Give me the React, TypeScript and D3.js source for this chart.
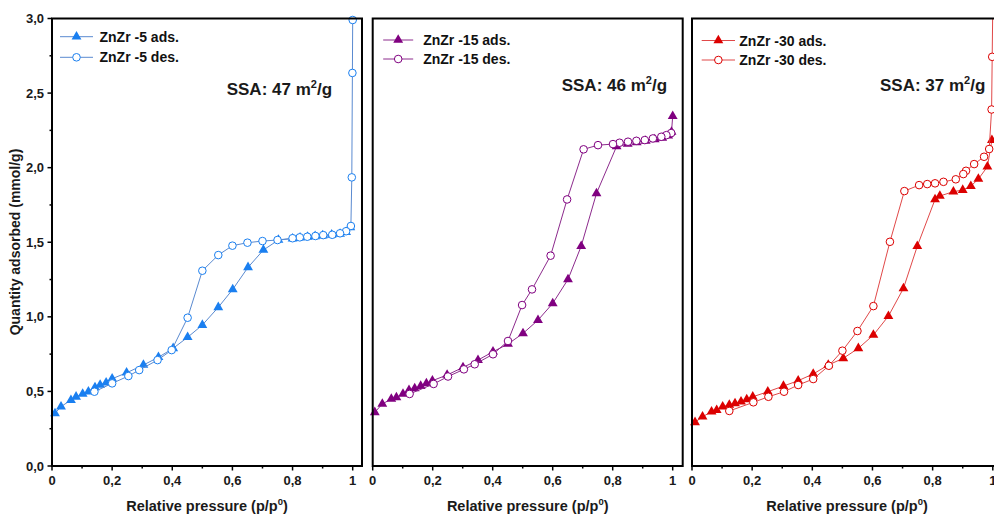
import React from 'react';
import * as d3 from 'd3';

type Pt = [number, number];

const xTickValues = [0, 0.2, 0.4, 0.6, 0.8, 1];
const xTickLabels = ['0', '0,2', '0,4', '0,6', '0,8', '1'];
const xMinorTicks = [0.1, 0.3, 0.5, 0.7, 0.9];
const yTickValues = [0, 0.5, 1, 1.5, 2, 2.5, 3];
const yTickLabels = ['0,0', '0,5', '1,0', '1,5', '2,0', '2,5', '3,0'];
const yMinorTicks = [0.25, 0.75, 1.25, 1.75, 2.25, 2.75];

const sampleNames = ['ZnZr -5', 'ZnZr -15', 'ZnZr -30'];
const ssaValues = ['47', '46', '37'];

const zn5Ads: Pt[] = [
  [0.01, 0.353], [0.03, 0.398], [0.063, 0.442], [0.08, 0.464], [0.102, 0.483], [0.121, 0.498],
  [0.143, 0.527], [0.16, 0.543], [0.18, 0.558], [0.2, 0.585], [0.248, 0.625], [0.304, 0.677],
  [0.354, 0.729], [0.403, 0.789], [0.451, 0.863], [0.5, 0.945], [0.553, 1.064], [0.601, 1.184],
  [0.652, 1.332], [0.703, 1.448], [0.753, 1.515], [0.8, 1.524], [0.825, 1.53], [0.85, 1.535],
  [0.875, 1.54], [0.9, 1.545], [0.93, 1.55], [0.958, 1.556], [0.978, 1.568], [0.992, 1.6],
];
const zn5Des: Pt[] = [
  [1.0, 2.99], [0.999, 2.635], [0.997, 1.935], [0.994, 1.609], [0.978, 1.574], [0.958, 1.56],
  [0.932, 1.55], [0.902, 1.548], [0.876, 1.542], [0.849, 1.537], [0.824, 1.533], [0.8, 1.527],
  [0.75, 1.515], [0.7, 1.508], [0.65, 1.497], [0.6, 1.477], [0.553, 1.414], [0.5, 1.309],
  [0.451, 0.994], [0.398, 0.777], [0.351, 0.71], [0.29, 0.643], [0.254, 0.603], [0.2, 0.554],
  [0.141, 0.498],
];
const zn15Ads: Pt[] = [
  [0.007, 0.36], [0.032, 0.416], [0.062, 0.449], [0.079, 0.46], [0.101, 0.483], [0.121, 0.509],
  [0.14, 0.52], [0.16, 0.536], [0.179, 0.554], [0.199, 0.572], [0.248, 0.61], [0.301, 0.661],
  [0.351, 0.71], [0.401, 0.766], [0.451, 0.818], [0.501, 0.889], [0.551, 0.978], [0.6, 1.09],
  [0.651, 1.251], [0.695, 1.474], [0.746, 1.828], [0.813, 2.143], [0.85, 2.16], [0.88, 2.17],
  [0.91, 2.18], [0.94, 2.19], [0.965, 2.2], [0.985, 2.215], [0.996, 2.24], [1.0, 2.345],
];
const zn15Des: Pt[] = [
  [0.995, 2.232], [0.979, 2.218], [0.962, 2.207], [0.934, 2.196], [0.907, 2.185], [0.879, 2.18],
  [0.851, 2.174], [0.823, 2.167], [0.801, 2.158], [0.751, 2.151], [0.703, 2.123], [0.648, 1.787],
  [0.593, 1.41], [0.531, 1.184], [0.498, 1.079], [0.451, 0.838], [0.401, 0.749], [0.34, 0.682],
  [0.304, 0.648], [0.251, 0.6], [0.203, 0.55], [0.123, 0.483],
];
const zn30Ads: Pt[] = [
  [0.01, 0.293], [0.035, 0.33], [0.065, 0.364], [0.082, 0.375], [0.102, 0.397], [0.124, 0.409],
  [0.143, 0.42], [0.163, 0.431], [0.182, 0.447], [0.202, 0.464], [0.252, 0.498], [0.304, 0.536],
  [0.353, 0.572], [0.403, 0.617], [0.453, 0.677], [0.503, 0.722], [0.553, 0.789], [0.603, 0.878],
  [0.653, 1.005], [0.703, 1.191], [0.749, 1.474], [0.808, 1.787], [0.824, 1.81], [0.869, 1.839],
  [0.9, 1.85], [0.927, 1.876], [0.952, 1.924], [0.982, 2.006], [0.997, 2.185],
];
const zn30Des: Pt[] = [
  [1.0, 3.1], [0.998, 2.743], [0.996, 2.39], [0.988, 2.125], [0.971, 2.073], [0.938, 2.024],
  [0.911, 1.979], [0.902, 1.957], [0.877, 1.922], [0.836, 1.905], [0.808, 1.895], [0.782, 1.89],
  [0.755, 1.883], [0.706, 1.843], [0.658, 1.503], [0.603, 1.072], [0.55, 0.905], [0.5, 0.773],
  [0.455, 0.672], [0.403, 0.583], [0.353, 0.543], [0.306, 0.498], [0.254, 0.464], [0.204, 0.427],
  [0.124, 0.369],
];

const adsSeries = [zn5Ads, zn15Ads, zn30Ads];
const desSeries = [zn5Des, zn15Des, zn30Des];

const W = 994;
const H = 514;
const FONT = "'Liberation Sans', Arial, Helvetica, sans-serif";

const panels = [
  { x0: 52, unit: 300.7, marker: '#1a7ff0', line: '#5a8ad0', legY: 41.7, legGap: 20.6, legLine: [8, 41], legText: 47.5, ssaX: 226.7, ssaY: 95 },
  { x0: 372.7, unit: 300, marker: '#800080', line: '#8c2a8c', legY: 45, legGap: 19, legLine: [10.5, 40.5], legText: 50.5, ssaX: 561.7, ssaY: 91 },
  { x0: 692, unit: 300.8, marker: '#dc0000', line: '#e04848', legY: 45.5, legGap: 19.5, legLine: [9.7, 43], legText: 47.3, ssaX: 880, ssaY: 91 },
];

const TOP = 18.5;
const BOTTOM = 466;
const PW = 310;

function Panel({ i }: { i: number }) {
  const p = panels[i];
  const x = d3.scaleLinear().domain([0, 1]).range([p.x0, p.x0 + p.unit]);
  const y = d3.scaleLinear().domain([0, 3]).range([BOTTOM, TOP]);
  const line = d3.line<Pt>().x(d => x(d[0])).y(d => y(d[1]));
  const tri = d3.symbol().type(d3.symbolTriangle).size(42)()!;
  const legTri = d3.symbol().type(d3.symbolTriangle).size(42)()!;
  const ads = adsSeries[i];
  const des = desSeries[i];
  const clipId = `clip${i}`;
  const inside = (d: Pt) => d[1] <= 3.02;
  const cx = p.x0 + PW / 2;
  const lx1 = p.x0 + p.legLine[0];
  const lx2 = p.x0 + p.legLine[1];
  const lmid = (lx1 + lx2) / 2;
  return (
    <g>
      <defs>
        <clipPath id={clipId}>
          <rect x={p.x0} y={TOP} width={PW} height={BOTTOM - TOP} />
        </clipPath>
      </defs>
      {/* ads */}
      <path d={line(ads) || ''} fill="none" stroke={p.line} strokeWidth={1} clipPath={`url(#${clipId})`} />
      {ads.filter(inside).map((d, k) => (
        <path key={'a' + k} d={tri} transform={`translate(${x(d[0])},${y(d[1])})`} fill={p.marker} />
      ))}
      {/* des */}
      <path d={line(des) || ''} fill="none" stroke={p.line} strokeWidth={1} clipPath={`url(#${clipId})`} />
      {des.filter(inside).map((d, k) => (
        <circle key={'d' + k} cx={x(d[0])} cy={y(d[1])} r={3.8} fill="#fff" stroke={p.marker} strokeWidth={1} />
      ))}
      {/* frame */}
      <rect x={p.x0} y={TOP} width={PW} height={BOTTOM - TOP} fill="none" stroke="#000" strokeWidth={2} />
      {/* x ticks */}
      {xTickValues.map((v, k) => (
        <g key={'xt' + k}>
          <line x1={x(v)} x2={x(v)} y1={BOTTOM} y2={BOTTOM + 4.5} stroke="#000" strokeWidth={1.5} />
          <text x={x(v)} y={485} textAnchor="middle" fontFamily={FONT} fontWeight="bold" fontSize={13} fill="#1a1a1a">
            {xTickLabels[k]}
          </text>
        </g>
      ))}
      {xMinorTicks.map((v, k) => (
        <line key={'xm' + k} x1={x(v)} x2={x(v)} y1={BOTTOM} y2={BOTTOM + 2.5} stroke="#000" strokeWidth={1.5} />
      ))}
      {i === 0 && (
        <g>
          {yTickValues.map((v, k) => (
            <g key={'yt' + k}>
              <line x1={p.x0 - 4.5} x2={p.x0} y1={y(v)} y2={y(v)} stroke="#000" strokeWidth={1.5} />
              <text x={44} y={y(v) + 4.5} textAnchor="end" fontFamily={FONT} fontWeight="bold" fontSize={13} fill="#1a1a1a">
                {yTickLabels[k]}
              </text>
            </g>
          ))}
          {yMinorTicks.map((v, k) => (
            <line key={'ym' + k} x1={p.x0 - 2.5} x2={p.x0} y1={y(v)} y2={y(v)} stroke="#000" strokeWidth={1.5} />
          ))}
          <text transform="translate(20,242) rotate(-90)" textAnchor="middle" fontFamily={FONT} fontWeight="bold" fontSize={14} fill="#1a1a1a">
            Quantity adsorbed (mmol/g)
          </text>
        </g>
      )}
      {/* x title */}
      <text x={cx} y={511} textAnchor="middle" fontFamily={FONT} fontWeight="bold" fontSize={14.5} fill="#1a1a1a">
        Relative pressure (p/p<tspan dy={-6} fontSize={9.5}>0</tspan><tspan dy={6}>)</tspan>
      </text>
      {/* legend */}
      <g>
        <line x1={lx1} x2={lx2} y1={p.legY - 5} y2={p.legY - 5} stroke={p.line} strokeWidth={1} />
        <path d={legTri} transform={`translate(${lmid},${p.legY - 5})`} fill={p.marker} />
        <text x={p.x0 + p.legText} y={p.legY} fontFamily={FONT} fontWeight="bold" fontSize={14} fill="#111">
          {sampleNames[i]} ads.
        </text>
        <line x1={lx1} x2={lx2} y1={p.legY + p.legGap - 5} y2={p.legY + p.legGap - 5} stroke={p.line} strokeWidth={1} />
        <circle cx={lmid} cy={p.legY + p.legGap - 5} r={3.8} fill="#fff" stroke={p.marker} strokeWidth={1} />
        <text x={p.x0 + p.legText} y={p.legY + p.legGap} fontFamily={FONT} fontWeight="bold" fontSize={14} fill="#111">
          {sampleNames[i]} des.
        </text>
      </g>
      {/* SSA */}
      <text x={p.ssaX} y={p.ssaY} fontFamily={FONT} fontWeight="bold" fontSize={17} fill="#1a1a1a">
        SSA: {ssaValues[i]} m<tspan dy={-7} fontSize={11}>2</tspan><tspan dy={7}>/g</tspan>
      </text>
    </g>
  );
}

export default function App() {
  return (
    <svg
      width={W}
      height={H}
      viewBox={`0 0 ${W} ${H}`}
      style={{ position: 'absolute', left: 0, top: 0, background: '#fff', display: 'block' }}
    >
      <rect width={W} height={H} fill="#fff" />
      {panels.map((_, i) => (
        <Panel key={i} i={i} />
      ))}
    </svg>
  );
}
